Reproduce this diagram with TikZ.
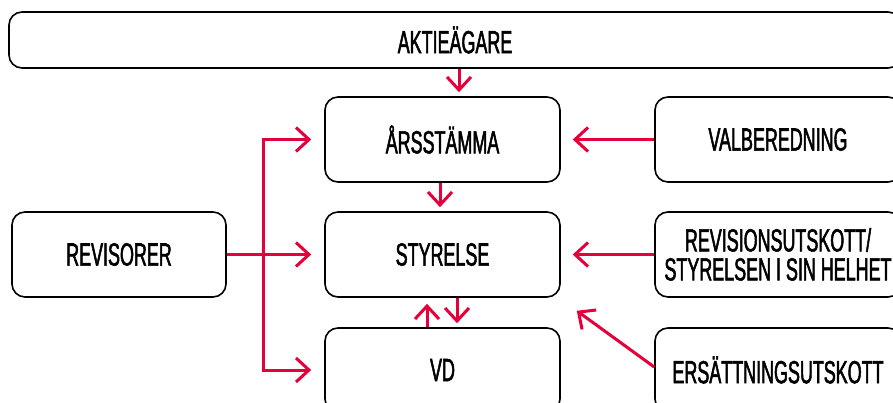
\documentclass[tikz,border=0pt]{standalone}
\usepackage{fontspec}
\newfontfamily\condfont[FakeStretch=0.56,FakeBold=1.6]{Liberation Sans}
\usetikzlibrary{arrows.meta,calc}
\definecolor{accred}{RGB}{228,0,58}
\tikzset{
  box/.style={draw=black, line width=1.6pt, rounded corners=13pt, minimum height=85pt,
    inner sep=0pt, align=center, font=\condfont\fontsize{32}{29}\selectfont},
  barb/.tip={Straight Barb[length=13pt,width=24pt,line width=3pt]},
  conn/.style={draw=accred, line width=3pt, -barb},
}
\begin{document}
\begin{tikzpicture}[x=1pt,y=-1pt]
\useasboundingbox (0,0) rectangle (893,403);
\clip (0,0) rectangle (893,403);
\node[box, minimum width=892pt, minimum height=56pt] (aktie) at (455,40) {AKTIEÄGARE};
\node[box, minimum width=235pt] (arss) at (442.5,139.5) {ÅRSSTÄMMA};
\node[box, minimum width=246pt] (valb) at (778,139.5) {VALBEREDNING};
\node[box, minimum width=214pt] (revs) at (119,254.5) {REVISORER};
\node[box, minimum width=235pt] (styr) at (442.5,254.5) {STYRELSE};
\node[box, minimum width=246pt] (revu) at (778,254.5) {REVISIONSUTSKOTT/\\STYRELSEN I SIN HELHET};
\node[box, minimum width=235pt, minimum height=84pt] (vd) at (442.5,370) {VD};
\node[box, minimum width=246pt, minimum height=84pt] (ers) at (778,370) {ERSÄTTNINGSUTSKOTT};
\coordinate (bus) at (263,0);
% arrows
\draw[conn] ([xshift=4pt]aktie.south) -- ([xshift=16.5pt,yshift=4pt]arss.north);
\draw[conn] ([xshift=-2.5pt]arss.south) -- ([xshift=-2.5pt,yshift=4pt]styr.north);
\draw[conn] ([xshift=14.5pt]styr.south) -- ([xshift=14.5pt,yshift=4pt]vd.north);
\draw[conn] ([xshift=-15.5pt]vd.north) -- ([xshift=-15.5pt,yshift=-6pt]styr.south);
\draw[conn] (valb.west) -- ([xshift=12pt]arss.east);
\draw[conn] (revu.west) -- ([xshift=12pt]styr.east);
\draw[conn] ([yshift=3pt]ers.west) -- ([xshift=16pt,yshift=-13pt]styr.south east);
\draw[conn] (revs.east) -- ([xshift=-13pt]styr.west);
\draw[conn, barb-barb, line join=miter] ([xshift=-13pt]arss.west) -- (bus |- arss.west) -- (bus |- vd.west) -- ([xshift=-13pt]vd.west);
\end{tikzpicture}
\end{document}
